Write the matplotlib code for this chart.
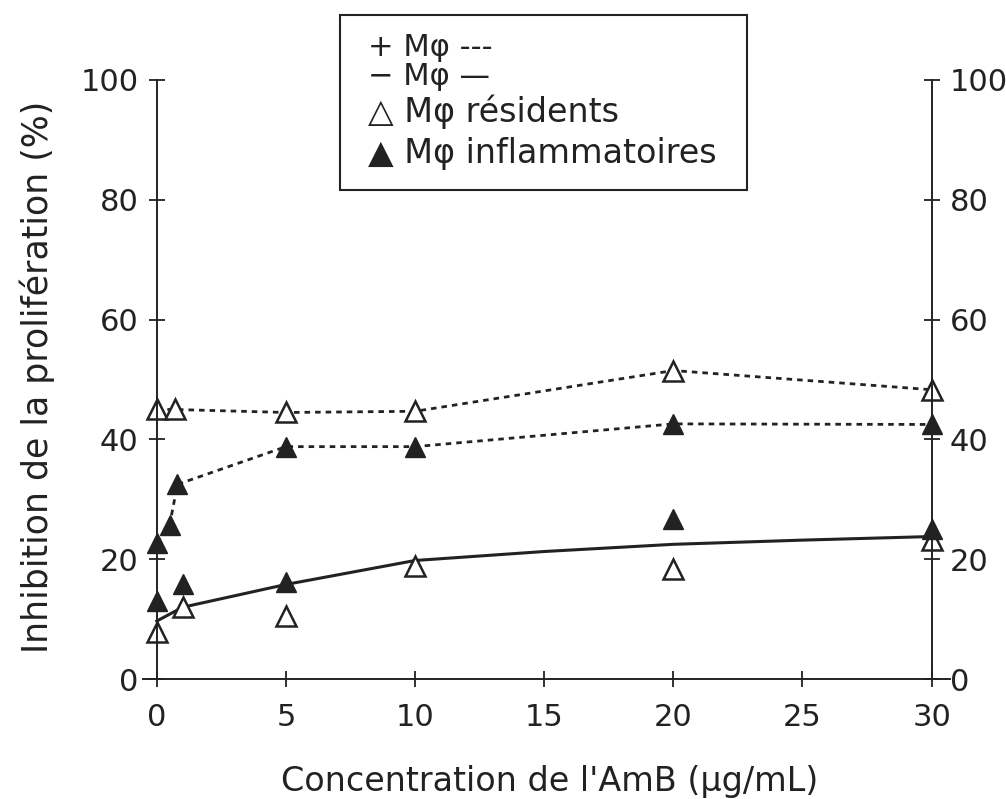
import matplotlib.pyplot as plt
import matplotlib
from matplotlib.patches import Rectangle

matplotlib.rcParams['font.family'] = 'DejaVu Sans'

# +Mφ (dashed) series
x_res_plus = [0, 0.7, 5, 10, 20, 30]
y_res_plus = [45, 45, 44.5, 44.7, 51.5, 48.3]
x_inf_plus = [0, 0.5, 0.8, 5, 10, 20, 30]
y_inf_plus = [22.8, 25.8, 32.5, 38.8, 38.8, 42.6, 42.5]

# -Mφ points (no line)
x_res_minus = [0, 1, 5, 10, 20, 30]
y_res_minus = [7.8, 12, 10.5, 18.8, 18.3, 23.3]
x_inf_minus = [0, 1, 5, 20, 30]
y_inf_minus = [13, 15.8, 16.2, 26.7, 25]

# -Mφ solid curve
x_fit = [0, 1, 5, 10, 15, 20, 25, 30]
y_fit = [9.7, 12, 15.8, 19.8, 21.3, 22.5, 23.2, 23.8]

xticks = [0, 5, 10, 15, 20, 25, 30]
yticks = [0, 20, 40, 60, 80, 100]

fig = plt.figure(figsize=(10.06, 7.99), dpi=100)
ax = fig.add_axes([0.142, 0.150, 0.802, 0.750])

dash = (0, (2, 1.8))
ax.plot(x_res_plus, y_res_plus, color='#222222', lw=2, linestyle=dash,
        marker='^', ms=15, mfc='white', mec='#222222', mew=1.8)
ax.plot(x_inf_plus, y_inf_plus, color='#222222', lw=2, linestyle=dash,
        marker='^', ms=15, mfc='#222222', mec='#222222')
ax.plot(x_fit, y_fit, color='#222222', lw=2.2)
ax.plot(x_res_minus, y_res_minus, linestyle='none',
        marker='^', ms=15, mfc='white', mec='#222222', mew=1.8)
ax.plot(x_inf_minus, y_inf_minus, linestyle='none',
        marker='^', ms=15, mfc='#222222', mec='#222222')

ax.set_xlim(-0.54, 30.7)
ax.set_ylim(0, 100)

for s in ['left', 'right', 'bottom']:
    ax.spines[s].set_linewidth(1.4)
    ax.spines[s].set_color('#222222')
ax.spines['top'].set_visible(False)
ax.spines['left'].set_position(('data', 0))
ax.spines['right'].set_position(('data', 30))
ax.spines['left'].set_bounds(0, 100)
ax.spines['right'].set_bounds(0, 100)

ax.set_xticks(xticks)
ax.set_yticks(yticks)
ax.tick_params(axis='both', direction='inout', length=12, width=1.3,
               labelsize=22, color='#222222', labelcolor='#222222')
ax.tick_params(axis='y', right=True, labelright=True, pad=7)
ax.tick_params(axis='x', pad=11)

ax.set_xlabel("Concentration de l'AmB (µg/mL)", fontsize=24, color='#222222')
ax.set_ylabel("Inhibition de la prolifération (%)", fontsize=25, color='#222222')
ax.xaxis.set_label_coords(0.504, -0.143)
ax.yaxis.set_label_coords(-0.109, 0.505)

# text legend in a box
fig.patches.append(Rectangle((0.338, 0.762), 0.405, 0.219, transform=fig.transFigure,
                             fill=False, edgecolor='#222222', lw=1.5))
fig.text(0.366, 0.940, "+ Mφ ---", fontsize=22, va='center', color='#222222')
fig.text(0.366, 0.904, "− Mφ —", fontsize=22, va='center', color='#222222')
fig.text(0.366, 0.860, "△ Mφ résidents", fontsize=24, va='center', color='#222222')
fig.text(0.366, 0.808, "▲ Mφ inflammatoires", fontsize=24, va='center', color='#222222')

fig.savefig('out.png', dpi=100)
